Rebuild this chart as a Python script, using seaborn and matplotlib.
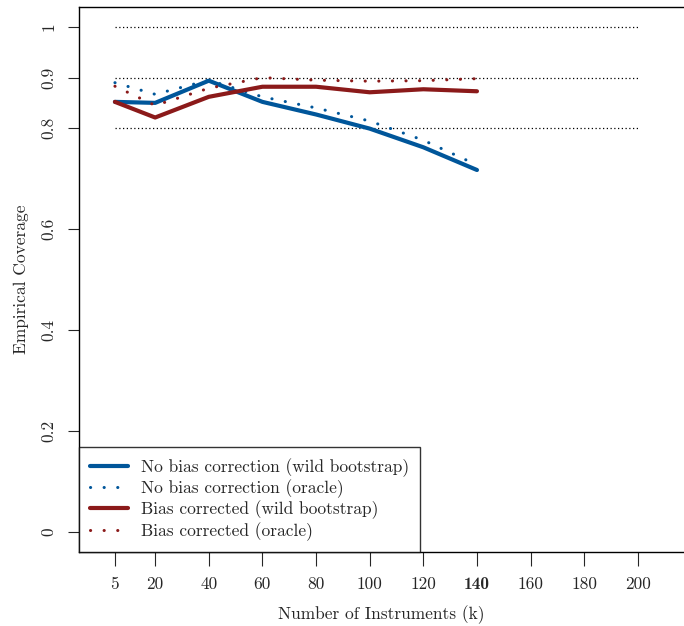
import matplotlib
matplotlib.use("Agg")
import matplotlib.pyplot as plt
import seaborn as sns

# data
k = [5, 20, 40, 60, 80, 100, 120, 140]
nobias_wild = [0.852, 0.850, 0.894, 0.852, 0.827, 0.799, 0.762, 0.717]
nobias_oracle = [0.890, 0.867, 0.895, 0.862, 0.840, 0.814, 0.776, 0.727]
bias_wild = [0.852, 0.821, 0.862, 0.882, 0.882, 0.871, 0.877, 0.873]
bias_oracle = [0.883, 0.845, 0.879, 0.900, 0.895, 0.893, 0.894, 0.898]

ref_levels = [0.8, 0.9, 1.0]
xticks = [5, 20, 40, 60, 80, 100, 120, 140, 160, 180, 200]
yticks = [0, 0.2, 0.4, 0.6, 0.8, 0.9, 1]
ytick_labels = ["0", "0.2", "0.4", "0.6", "0.8", "0.9", "1"]

blue = "#00569A"
red = "#8B1A1A"
fs = 12.5

sns.set_style("ticks")
plt.rcParams["font.family"] = ["cmr10", "DejaVu Serif"]
plt.rcParams["axes.unicode_minus"] = False
plt.rcParams["axes.formatter.use_mathtext"] = True

fig = plt.figure(figsize=(6.84, 6.26), dpi=100)
ax = fig.add_axes([79 / 684, 1 - 552 / 626, 1 - 79 / 684, 545 / 626])

ax.hlines(ref_levels, 5, 200, colors="black", linestyles=(0, (1, 2)), linewidth=0.9)

dots = (0, (0.05, 4.4))
sns.lineplot(x=k, y=nobias_wild, color=blue, lw=3, ax=ax,
             label="No bias correction (wild bootstrap)")
sns.lineplot(x=k, y=nobias_oracle, color=blue, lw=2.2, ax=ax, linestyle=dots,
             dash_capstyle="round", label="No bias correction (oracle)")
sns.lineplot(x=k, y=bias_wild, color=red, lw=3, ax=ax,
             label="Bias corrected (wild bootstrap)")
sns.lineplot(x=k, y=bias_oracle, color=red, lw=2.2, ax=ax, linestyle=dots,
             dash_capstyle="round", label="Bias corrected (oracle)")

ax.set_xlim(-8.4, 217.2)
ax.set_ylim(-0.04, 1.04)
ax.set_xticks(xticks)
ax.set_xticklabels([str(v) for v in xticks])
for lab in ax.get_xticklabels():
    if lab.get_text() == "140":
        lab.set_fontfamily("cmb10")
ax.set_yticks(yticks)
ax.set_yticklabels(ytick_labels, rotation=90, va="center")
ax.tick_params(axis="x", length=10, width=0.8, pad=8, labelsize=fs)
ax.tick_params(axis="y", length=8, width=0.8, pad=8, labelsize=fs)

ax.set_xlabel("Number of Instruments (k)", fontsize=fs, labelpad=9)
ax.set_ylabel("Empirical Coverage", fontsize=fs, labelpad=9)

for side in ["left", "bottom", "top"]:
    ax.spines[side].set_color("black")
    ax.spines[side].set_linewidth(1.0)
ax.spines["right"].set_visible(False)

leg = ax.legend(loc="lower left", bbox_to_anchor=(0, 0), borderaxespad=0,
                fancybox=False, fontsize=fs, handlelength=2.2,
                labelspacing=0.15, borderpad=0.65, handletextpad=0.7)
leg.get_frame().set_edgecolor("black")
leg.get_frame().set_linewidth(1.0)

fig.savefig("out.png", dpi=100)
